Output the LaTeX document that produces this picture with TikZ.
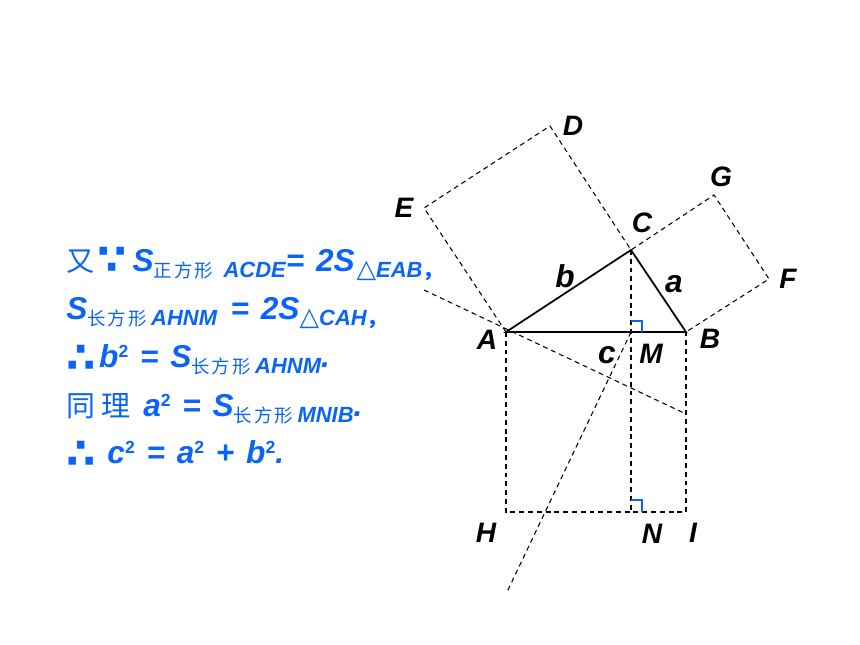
\documentclass[tikz,border=0pt]{standalone}
\usepackage{fontspec}
\setmainfont{Liberation Sans}
\newfontfamily\cjk[LetterSpace=11]{Noto Sans CJK SC}
\newfontfamily\cjkbig[LetterSpace=20]{Noto Sans CJK SC}
\newfontfamily\sym{DejaVu Sans}
\definecolor{proofblue}{RGB}{10,100,250}
\newcommand{\widesp}{\spaceskip 6.7pt\relax}
\tikzset{
  dash line/.style={line width=0.6pt,dash pattern=on 2.8pt off 2.2pt},
  tri line/.style={line width=1pt},
  right mark/.style={line width=0.6pt,draw=proofblue},
  point label/.style={font=\fontsize{16}{18}\selectfont\bfseries\itshape,text=black,inner sep=0pt},
  proof line/.style={anchor=base west,inner sep=0pt,text=proofblue,font=\fontsize{18}{20}\selectfont\bfseries\itshape\widesp}
}
% subscripts and squares in the text
\newcommand{\sbt}[1]{\raisebox{-3.4pt}{\fontsize{12.5}{13}\selectfont #1}}
\newcommand{\han}[1]{{\fontsize{10.5}{11}\selectfont\upshape\mdseries\cjk #1}\kern2.5pt}
\newcommand{\sqr}{\raisebox{6pt}{\fontsize{10}{11}\selectfont\upshape 2}}
\newcommand{\tri}{{\upshape\mdseries\sym\fontsize{14.5}{15}\selectfont △}}
\newcommand{\since}{\raisebox{-1.2pt}{\upshape\bfseries\sym\fontsize{24}{20}\selectfont ∵}}
\newcommand{\thus}{\raisebox{-2.3pt}{\upshape\bfseries\sym\fontsize{24}{20}\selectfont ∴}}
\newcommand{\comma}{{\fontsize{12}{13}\selectfont\upshape\bfseries\cjk ，}}
\begin{document}
\begin{tikzpicture}[x=0.02cm,y=-0.02cm]
\useasboundingbox (0,0) rectangle (860,645);

\coordinate (A) at (506,332);
\coordinate (B) at (686,332);
\coordinate (C) at (631,250);
\coordinate (D) at (550,126);
\coordinate (E) at (424,208);
\coordinate (F) at (769,279);
\coordinate (G) at (714,195);
\coordinate (H) at (506,512);
\coordinate (I) at (686,512);
\coordinate (M) at (631,332);
\coordinate (N) at (631,512);
\coordinate (P) at (424,290);
\coordinate (Q) at (686,414);
\coordinate (R) at (507,592);

% squares and rectangles
\draw[dash line] (A) -- (E) -- (D) -- (C) -- (G) -- (F) -- (B);
\draw[dash line] (A) -- (H) -- (I) -- (B);
\draw[dash line] (C) -- (N);
\draw[dash line] (P) -- (Q);
\draw[dash line] (M) -- (R);

\draw[tri line] (A) -- (C) -- (B) -- cycle;

\draw[right mark] (631,321) -- (642,321) -- (642,332);
\draw[right mark] (631,500) -- (642,500) -- (642,512);

\node[point label] (labA) at (487,340) {A};
\node[point label] (labB) at (710,339) {B};
\node[point label] (labC) at (642,223) {C};
\node[point label] (labD) at (573,126) {D};
\node[point label] (labE) at (404,208) {E};
\node[point label] (labF) at (788,279) {F};
\node[point label] (labG) at (721,177) {G};
\node[point label] (labH) at (486,533) {H};
\node[point label] (labI) at (693,533) {I};
\node[point label] (labM) at (651,354) {M};
\node[point label] (labN) at (652,534) {N};
\node[point label] (labb) at (565,276) {\fontsize{18}{20}\selectfont b};
\node[point label] (laba) at (674,284) {\fontsize{18}{20}\selectfont a};
\node[point label] (labc) at (607,355) {\fontsize{18}{20}\selectfont c};

\node[proof line] (row1) at (66,272) {{\fontsize{16}{17}\selectfont\upshape\mdseries\cjk 又}\kern1.5pt\since\kern3.5pt S\sbt{\han{正方形}\kern3.5pt ACDE}= 2S\sbt{\kern1pt\tri EAB\comma}};
\node[proof line] (row2) at (66,320) {S\sbt{\han{长方形}AHNM}\ \kern1pt= 2S\sbt{\tri CAH\comma}};
\node[proof line] (row3) at (66,368) {\thus\kern2pt b\sqr\ = S\sbt{\han{长方形}AHNM}.};
\node[proof line] (row4) at (66,417) {{\fontsize{16.5}{17}\selectfont\upshape\mdseries\cjkbig 同理}\kern7.5pt a\sqr\ = S\sbt{\han{长方形}MNIB}.};
\node[proof line] (row5) at (66,464) {\thus\ c\sqr\ = a\sqr\ + b\sqr.};
\end{tikzpicture}
\end{document}
